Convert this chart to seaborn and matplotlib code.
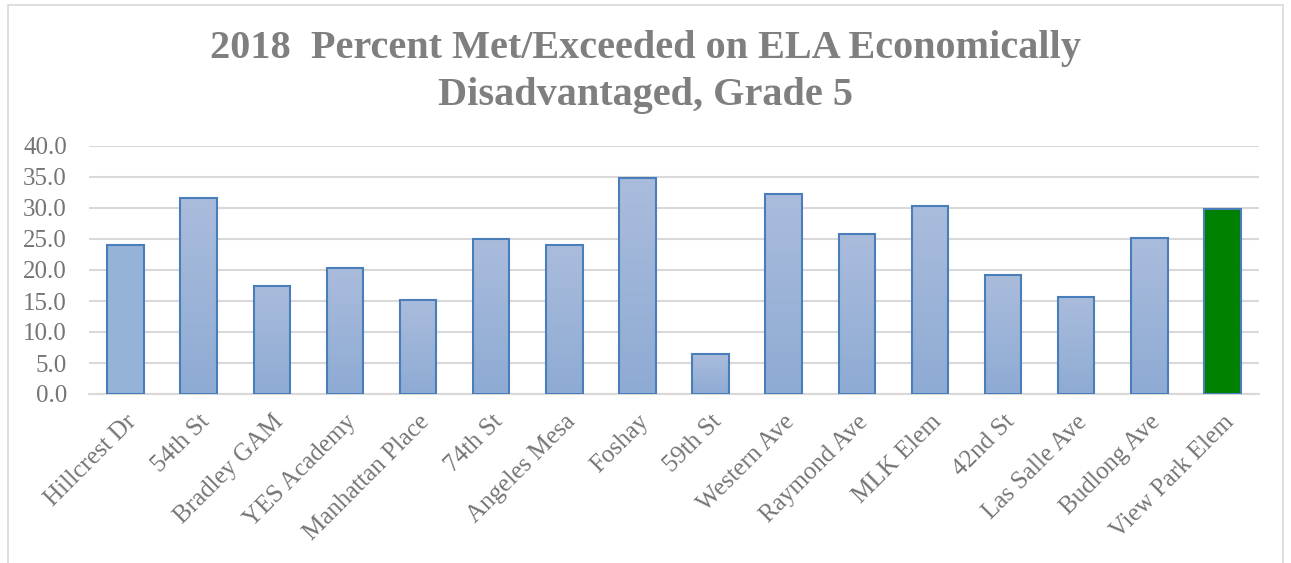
import numpy as np
import pandas as pd
import matplotlib
matplotlib.use("Agg")
import matplotlib.pyplot as plt
from matplotlib.colors import LinearSegmentedColormap
from matplotlib.patches import Rectangle
import seaborn as sns

# values
schools = ["Hillcrest Dr", "54th St", "Bradley GAM", "YES Academy", "Manhattan Place",
           "74th St", "Angeles Mesa", "Foshay", "59th St", "Western Ave", "Raymond Ave",
           "MLK Elem", "42nd St", "Las Salle Ave", "Budlong Ave", "View Park Elem"]
pct_met = [24.1, 31.6, 17.4, 20.3, 15.2, 25.0, 24.0, 34.8,
           6.4, 32.2, 25.8, 30.3, 19.2, 15.7, 25.2, 29.8]
yticks = [0, 5, 10, 15, 20, 25, 30, 35, 40]
title = "2018  Percent Met/Exceeded on ELA Economically\nDisadvantaged, Grade 5"

sns.set_style("white")
plt.rcParams["font.family"] = ["Liberation Serif", "DejaVu Serif"]

df = pd.DataFrame({"school": schools, "pct": pct_met})

fig = plt.figure(figsize=(12.91, 5.63), dpi=100)
ax = fig.add_axes([89 / 1291, 1 - 394 / 563, 1170 / 1291, 248 / 563])

sns.barplot(data=df, x="school", y="pct", ax=ax, width=0.5, saturation=1,
            color="#95b3d7", edgecolor="#4a7ebb", linewidth=1.5, zorder=3)

# gradient fill like the Excel bars
grad = LinearSegmentedColormap.from_list("bar", ["#8eabd4", "#aabcdc"])
g = np.linspace(0, 1, 100).reshape(-1, 1)
for i, p in enumerate(ax.patches):
    if i == len(ax.patches) - 1:
        p.set_facecolor("#008000")
        continue
    if i == 0:
        continue
    p.set_facecolor("none")
    x0, y0 = p.get_x(), p.get_y()
    im = ax.imshow(g, extent=[x0, x0 + p.get_width(), y0, y0 + p.get_height()],
                   origin="lower", aspect="auto", cmap=grad, zorder=2)
    im.set_clip_path(p)

ax.set_xlim(-0.5, len(schools) - 0.5)
ax.set_ylim(0, 40)
ax.set_yticks(yticks)
ax.set_yticklabels([f"{v:.1f}" for v in yticks], fontsize=18, color="#757575")
ax.yaxis.grid(True, color="#d9d9d9", linewidth=1.5, zorder=0)
ax.set_axisbelow(True)
for s in ["top", "right", "left"]:
    ax.spines[s].set_visible(False)
ax.spines["bottom"].set_color("#d9d9d9")
ax.spines["bottom"].set_linewidth(1.5)
ax.tick_params(axis="y", length=0, pad=16)
ax.tick_params(axis="x", length=0, pad=12)
ax.set_xlabel("")
ax.set_ylabel("")
ax.set_xticks(range(len(schools)))
ax.set_xticklabels(schools, rotation=45, ha="right", rotation_mode="anchor",
                   fontsize=18, color="#757575")

fig.text(0.5, 1 - 72 / 563, title, ha="center", va="center", fontsize=29,
         fontweight="bold", color="#7f7f7f", linespacing=1.35)

# outer chart border
fig.add_artist(Rectangle((8 / 1291, -0.05), 1275 / 1291, 1.04 - 5 / 563 + 0.01,
                         transform=fig.transFigure, fill=False,
                         edgecolor="#d9d9d9", linewidth=1.2))

fig.savefig("out.png", dpi=100)
